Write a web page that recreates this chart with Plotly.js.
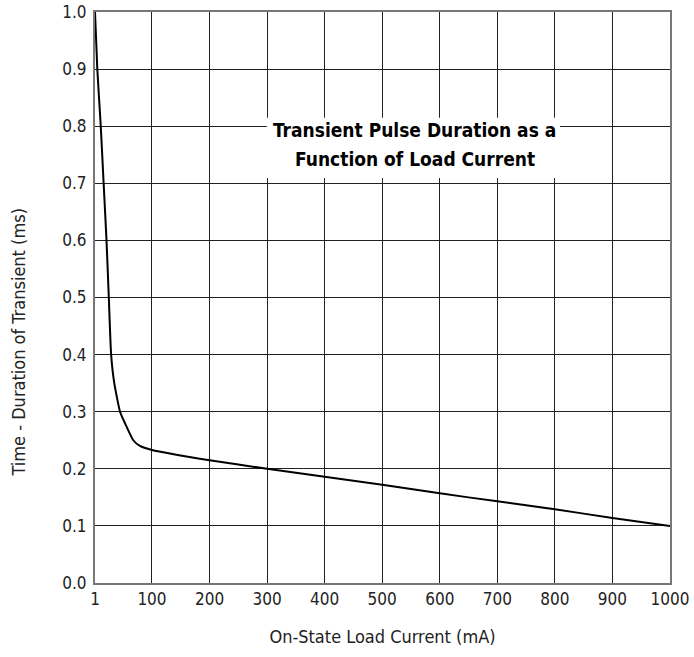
<!DOCTYPE html>
<html>
<head>
<meta charset="utf-8">
<script src="https://cdn.plot.ly/plotly-3.0.1.min.js"></script>
<style>html,body{margin:0;padding:0;background:#fff;}#chart{width:694px;height:657px;}</style>
</head>
<body>
<div id="chart"></div>
<script>
// On-State Load Current (mA)
var currentMA = [1, 5, 11, 16, 21, 25, 29, 34.5, 44.5, 53, 67.5, 79, 100, 200, 300, 400, 500, 600, 700, 800, 900, 1000];
// Time - Duration of Transient (ms)
var durationMs = [1.0, 0.9, 0.8, 0.7, 0.6, 0.5, 0.4, 0.35, 0.3, 0.28, 0.25, 0.24, 0.233, 0.215, 0.2, 0.186, 0.172, 0.157, 0.143, 0.129, 0.114, 0.1];

var xTickVals = [1, 100, 200, 300, 400, 500, 600, 700, 800, 900, 1000];
var xTickText = ['1', '100', '200', '300', '400', '500', '600', '700', '800', '900', '1000'];
var yTickVals = [0, 0.1, 0.2, 0.3, 0.4, 0.5, 0.6, 0.7, 0.8, 0.9, 1.0];
var yTickText = ['0.0', '0.1', '0.2', '0.3', '0.4', '0.5', '0.6', '0.7', '0.8', '0.9', '1.0'];

var titleLines = ['Transient Pulse Duration as a', 'Function of Load Current'];
var xTitle = 'On-State Load Current (mA)';
var yTitle = 'Time - Duration of Transient (ms)';

var FONT = '"Liberation Sans Narrow", "DejaVu Sans Condensed", "Arial Narrow", sans-serif';

var trace = {
  x: currentMA,
  y: durationMs,
  type: 'scatter',
  mode: 'lines',
  line: {color: '#000', width: 2, shape: 'spline', smoothing: 0.5},
  hoverinfo: 'x+y'
};

var layout = {
  width: 694,
  height: 657,
  margin: {l: 95.3, r: 24, t: 12.3, b: 74.3, pad: 0},
  paper_bgcolor: '#fff',
  plot_bgcolor: '#fff',
  showlegend: false,
  font: {family: FONT, size: 17, color: '#222'},
  xaxis: {
    range: [1, 1000],
    tickvals: xTickVals,
    ticktext: xTickText,
    showgrid: true,
    gridcolor: '#222',
    gridwidth: 1,
    zeroline: false,
    showline: true,
    mirror: true,
    linecolor: '#777',
    linewidth: 2,
    ticks: '',
    ticklabelstandoff: 0,
    title: {text: xTitle, font: {family: FONT, size: 18, color: '#222'}, standoff: 22},
    fixedrange: true
  },
  yaxis: {
    range: [0, 1.0],
    tickvals: yTickVals,
    ticktext: yTickText,
    showgrid: true,
    gridcolor: '#222',
    gridwidth: 1,
    zeroline: false,
    showline: true,
    mirror: true,
    linecolor: '#777',
    linewidth: 2,
    ticks: '',
    ticklabelstandoff: 3,
    fixedrange: true
  },
  shapes: [
    {
      type: 'rect', xref: 'paper', yref: 'paper',
      x0: 0.2988, x1: 0.8086, y0: 0.7095, y1: 0.8147,
      fillcolor: '#fff', line: {width: 0}, layer: 'above'
    }
  ],
  annotations: [
    {
      text: '<b>' + titleLines[0] + '</b>',
      xref: 'paper', yref: 'paper',
      x: 0.5563, y: 0.7935,
      xanchor: 'center', yanchor: 'middle',
      showarrow: false,
      font: {family: FONT, size: 19, color: '#000'}
    },
    {
      text: '<b>' + titleLines[1] + '</b>',
      xref: 'paper', yref: 'paper',
      x: 0.5563, y: 0.7426,
      xanchor: 'center', yanchor: 'middle',
      showarrow: false,
      font: {family: FONT, size: 19, color: '#000'}
    },
    {
      text: yTitle,
      xref: 'paper', yref: 'paper',
      x: -0.133, y: 0.422,
      xanchor: 'center', yanchor: 'middle',
      textangle: -90,
      showarrow: false,
      font: {family: FONT, size: 18, color: '#222'}
    }
  ]
};

Plotly.newPlot('chart', [trace], layout, {displayModeBar: false, staticPlot: true});
</script>
</body>
</html>
